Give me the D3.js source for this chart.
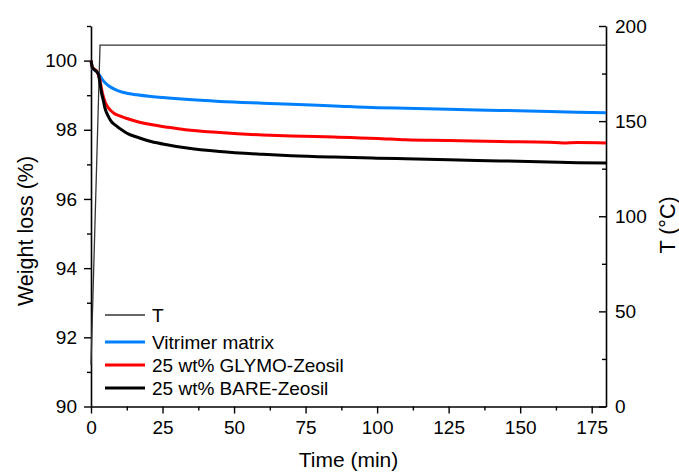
<!DOCTYPE html>
<html><head><meta charset="utf-8">
<script src="https://cdn.jsdelivr.net/npm/d3@7"></script>
<style>body{margin:0;background:#fff}svg{display:block}text{font-family:Arial,"Liberation Sans",sans-serif;fill:#000}</style>
</head><body><svg id="c" width="679" height="474"></svg>
<script>
const tempTime = [0, 3.15, 180];
const tempValues = [22, 190, 190];

const blueTime = [0,0.5,1,2,3,4,5,6,8,10,13,16,21,27,33,45,60,70,85,100,110,125,143,160,170,180];
const blueValues = [100,99.78,99.74,99.68,99.57,99.45,99.35,99.28,99.18,99.11,99.05,99.01,98.96,98.92,98.88,98.82,98.77,98.74,98.69,98.64,98.62,98.59,98.56,98.53,98.51,98.49];

const redTime = [0,0.5,1,2,3,3.7,4,5,6,7,8,10,12,16,21,27,33,45,60,70,85,100,110,125,143,160,165,170,180];
const redValues = [100,99.8,99.76,99.69,99.48,99.17,99.05,98.79,98.64,98.55,98.48,98.4,98.34,98.24,98.15,98.07,98.0,97.92,97.85,97.82,97.79,97.75,97.71,97.69,97.66,97.64,97.62,97.63,97.62];

const blackTime = [0,0.5,1,2,2.6,3,3.7,4.3,4.9,6.1,7,8.4,10,13,16,21,27,33,45,60,70,85,100,110,125,143,160,170,180];
const blackValues = [100,99.8,99.75,99.68,99.6,99.42,99.06,98.85,98.62,98.38,98.25,98.14,98.04,97.88,97.79,97.66,97.56,97.48,97.37,97.29,97.25,97.21,97.18,97.16,97.13,97.1,97.07,97.05,97.04];

const xTicks = [0,25,50,75,100,125,150,175];
const yLeftTicks = [90,92,94,96,98,100];
const yRightTicks = [0,50,100,150,200];
const legendLabels = ["T","Vitrimer matrix","25 wt% GLYMO-Zeosil","25 wt% BARE-Zeosil"];
const colors = ["#333333","#0080ff","#ff0000","#000000"];

const L = 91, R = 606, T = 26, B = 406.5;
const svg = d3.select("#c");
const x = d3.scaleLinear().domain([0,180]).range([L,R]);
const yL = d3.scaleLinear().domain([90,101]).range([B,T]);
const yR = d3.scaleLinear().domain([0,200]).range([B,T]);

const xMinor = d3.range(12.5,180,25);
const yLMinor = d3.range(91,102,2);
const yRMinor = d3.range(25,200,50);

svg.append("g").attr("transform",`translate(0,${B})`)
  .call(d3.axisBottom(x).tickValues(xTicks).tickSize(7).tickPadding(7).tickSizeOuter(0));
svg.append("g").attr("transform",`translate(0,${B})`)
  .call(d3.axisBottom(x).tickValues(xMinor).tickSize(4).tickFormat("").tickSizeOuter(0))
  .select(".domain").remove();
svg.append("g").attr("transform",`translate(${L},0)`)
  .call(d3.axisLeft(yL).tickValues(yLeftTicks).tickSize(7).tickPadding(7).tickSizeOuter(0));
svg.append("g").attr("transform",`translate(${L},0)`)
  .call(d3.axisLeft(yL).tickValues(yLMinor).tickSize(4).tickFormat("").tickSizeOuter(0))
  .select(".domain").remove();
svg.append("g").attr("transform",`translate(${R},0)`)
  .call(d3.axisRight(yR).tickValues(yRightTicks).tickSizeInner(-7).tickSizeOuter(0).tickPadding(9));
svg.append("g").attr("transform",`translate(${R},0)`)
  .call(d3.axisRight(yR).tickValues(yRMinor).tickSizeInner(-4).tickSizeOuter(0).tickFormat(""))
  .select(".domain").remove();
svg.selectAll(".domain").attr("stroke","#000").attr("stroke-width",1.6);
svg.selectAll(".tick line").attr("stroke","#000").attr("stroke-width",1.4);
svg.selectAll(".tick text").attr("font-size",19).attr("font-family","Arial, 'Liberation Sans', sans-serif").attr("fill","#000");

const lineT = d3.line().x(d=>x(d[0])).y(d=>yR(d[1]));
const lineW = d3.line().curve(d3.curveMonotoneX).x(d=>x(d[0])).y(d=>yL(d[1]));
svg.append("path").datum(d3.zip(tempTime,tempValues)).attr("d",lineT)
  .attr("fill","none").attr("stroke",colors[0]).attr("stroke-width",1.3);
[[blueTime,blueValues,1],[redTime,redValues,2],[blackTime,blackValues,3]].forEach(([t,v,i])=>{
  svg.append("path").datum(d3.zip(t,v)).attr("d",lineW)
    .attr("fill","none").attr("stroke",colors[i]).attr("stroke-width",3).attr("stroke-linejoin","round");
});

const legY = [315,342,365,388];
legendLabels.forEach((lab,i)=>{
  svg.append("line").attr("x1",105).attr("x2",145).attr("y1",legY[i]).attr("y2",legY[i])
    .attr("stroke",colors[i]).attr("stroke-width",i===0?1.3:3);
  svg.append("text").attr("x",152).attr("y",legY[i]).attr("dy","0.35em")
    .attr("font-size",19).text(lab);
});

svg.append("text").attr("x",(L+R)/2).attr("y",467).attr("text-anchor","middle").attr("font-size",21).text("Time (min)");
svg.append("text").attr("transform",`translate(33,231) rotate(-90)`).attr("text-anchor","middle").attr("font-size",21.5).text("Weight loss (%)");
svg.append("text").attr("transform",`translate(675,225) rotate(-90)`).attr("text-anchor","middle").attr("font-size",21.5).text("T (°C)");
</script></body></html>
